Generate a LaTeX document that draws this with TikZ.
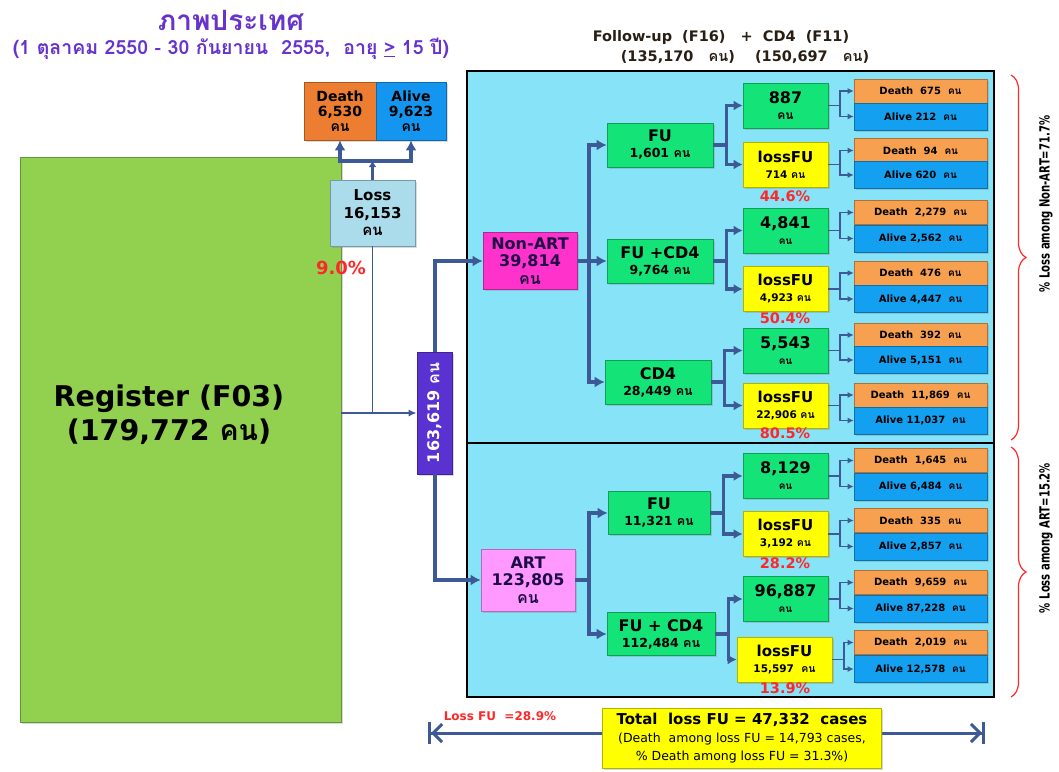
\documentclass[tikz,border=0pt]{standalone}
\usepackage{fontspec}
\usepackage{graphicx}
\setmainfont{DejaVu Sans}
\newfontfamily\thaifont[Script=Thai]{Loma}
\usetikzlibrary{arrows.meta,shadows,decorations.pathreplacing,calc}
\definecolor{panelc}{RGB}{135,228,248}
\definecolor{regc}{RGB}{146,208,80}
\definecolor{grn}{RGB}{20,228,120}
\definecolor{yel}{RGB}{255,255,0}
\definecolor{orng}{RGB}{247,160,80}
\definecolor{blu}{RGB}{20,160,240}
\definecolor{dorng}{RGB}{237,125,49}
\definecolor{dblu}{RGB}{20,150,240}
\definecolor{magc}{RGB}{255,51,204}
\definecolor{pinkc}{RGB}{255,153,255}
\definecolor{lossc}{RGB}{170,220,235}
\definecolor{purpc}{RGB}{90,50,210}
\definecolor{linec}{RGB}{62,90,150}
\definecolor{titlec}{RGB}{102,51,204}
\definecolor{redc}{RGB}{255,40,40}
\definecolor{hdrc}{RGB}{40,30,20}
\definecolor{navyc}{RGB}{30,10,70}
\newcommand\kon{{\thaifont คน}}
\newcommand\fz[2]{{\fontsize{#1}{#1}\selectfont #2}}
\tikzset{
  bx/.style={draw=#1!70!black, fill=#1, line width=0.6pt, inner sep=1pt, align=center,
    font=\bfseries\fontsize{12}{14}\selectfont,
    drop shadow={shadow xshift=1.5pt,shadow yshift=-1.5pt,opacity=0.3}},
  lv2/.style={bx=grn, minimum width=106, minimum height=44},
  lv3g/.style={bx=grn, minimum width=85, minimum height=45},
  lv3y/.style={bx=yel, minimum width=85, minimum height=45},
  dth/.style={bx=orng, minimum width=133, minimum height=24, font=\bfseries\fontsize{10}{12}\selectfont},
  alv/.style={bx=blu, minimum width=133, minimum height=27, font=\bfseries\fontsize{10}{12}\selectfont},
  pct/.style={text=redc, font=\bfseries\fontsize{14.5}{16}\selectfont, inner sep=0},
  conn/.style={draw=linec, line width=4pt, -{Latex[length=10pt,width=11pt]}},
  conn3/.style={draw=linec, line width=3.4pt, -{Latex[length=9pt,width=10pt]}},
  conns/.style={draw=linec, line width=1.8pt, -{Latex[length=6pt,width=6pt]}},
  connt/.style={draw=linec, line width=1.6pt},
}
\begin{document}
\begin{tikzpicture}[x=1pt,y=-1pt]
\useasboundingbox (0,0) rectangle (1059,771);

% titles
\node[text=titlec, font=\thaifont\bfseries\fontsize{28}{30}\selectfont, inner sep=0] (title) at (231,20) {ภาพประเทศ};
\node[text=titlec, font=\thaifont\bfseries\fontsize{19.5}{21}\selectfont, inner sep=0] (subtitle) at (231,49) {(1 ตุลาคม 2550 - 30 กันยายน\ \ 2555,\ \ อายุ \underline{>} 15 ปี)};
\node[font=\bfseries\fontsize{14.5}{16}\selectfont, text=hdrc] (hdr1) at (721,37) {Follow-up\ \ (F16)\ \ \ +\ \ CD4\ \ (F11)};
\node[font=\bfseries\fontsize{14.5}{16}\selectfont, text=hdrc] (hdr2) at (745,57) {(135,170\ \ \ \kon)\ \ \ \ (150,697\ \ \ \kon)};

% panel
\draw[fill=panelc, line width=2pt] (467,71) rectangle (994,697);
\draw[line width=2pt] (467,443) -- (994,443);

% register and loss
\node[bx=regc, minimum width=321, minimum height=565] (reg) at (180.5,439.5) {};
\node[align=center, font=\bfseries\fontsize{28.5}{34}\selectfont] (regtxt) at (169,415) {Register (F03)\\(179,772 \kon)};
\node[bx=dorng, minimum width=72, minimum height=58, font=\bfseries\fontsize{14}{15}\selectfont] (dtop) at (340,111) {Death\\6,530\\\kon};
\node[bx=dblu, minimum width=70, minimum height=58, font=\bfseries\fontsize{14}{15}\selectfont] (atop) at (411,111) {Alive\\9,623\\\kon};
\node[bx=lossc, minimum width=85, minimum height=66, font=\bfseries\fontsize{15}{17.5}\selectfont] (loss) at (372.5,213) {Loss\\16,153\\\kon};
\node[pct, font=\bfseries\fontsize{18}{20}\selectfont] (p90) at (341,268) {9.0\%};
\node[bx=purpc, minimum width=122, minimum height=35, rotate=90, text=white, font=\bfseries\fontsize{16}{18}\selectfont] (purp) at (434.5,413) {163,619 \kon};

\coordinate (fork) at (372.5,161);
\draw[conn, line width=3.4pt, -{Latex[length=6pt,width=8pt]}] (loss.north) -- (fork);
\draw[conn, line width=3.6pt] (fork) -| (dtop.south);
\draw[conn, line width=3.6pt] (fork) -| (atop.south);
\draw[connt] (loss.south) -- (loss.south |- purp.north);
\draw[connt, -{Latex[length=8pt,width=7pt]}] (reg.east |- purp.north) -- (purp.north);

% level 1
\node[bx=magc, minimum width=94, minimum height=57, font=\bfseries\fontsize{16}{17.5}\selectfont, text=navyc] (nonart) at (530,261) {Non-ART\\39,814\\\kon};
\node[bx=pinkc, minimum width=94, minimum height=62, font=\bfseries\fontsize{16}{17.5}\selectfont, text=navyc] (art) at (528,580) {ART\\123,805\\\kon};
\draw[conn] (purp.east) |- (nonart.west);
\draw[conn] (purp.west) |- (art.west);

% level 2
\node[lv2] (nfu) at (660,145) {\fz{16}{FU}\\[2pt]\fz{12.5}{1,601 \kon}};
\node[lv2] (nfc) at (660,261) {\fz{16}{FU +CD4}\\[2pt]\fz{12.5}{9,764 \kon}};
\node[lv2] (ncd) at (658,382) {\fz{16}{CD4}\\[2pt]\fz{12.5}{28,449 \kon}};
\node[lv2, minimum width=102, minimum height=43] (afu) at (659,513) {\fz{16}{FU}\\[2pt]\fz{12.5}{11,321 \kon}};
\node[lv2, minimum width=108, minimum height=43] (afc) at (661,634) {\fz{16}{FU + CD4}\\[2pt]\fz{12.5}{112,484 \kon}};
\foreach \t in {nfu,nfc,ncd} \draw[conn] (nonart.east) -- ++(12,0) |- (\t.west);
\foreach \t in {afu,afc} \draw[conn] (art.east) -- ++(14,0) |- (\t.west);

% level 3
\node[lv3g] (c1) at (785.5,105.5) {\fz{16}{887}\\[2pt]\fz{12}{\kon}};
\node[lv3y] (y1) at (785.5,164.5) {\fz{15}{lossFU}\\[2pt]\fz{10.5}{714 \kon}};
\node[lv3g] (c2) at (785.5,230.5) {\fz{16}{4,841}\\[2pt]\fz{10}{\kon}};
\node[lv3y] (y2) at (785.5,289) {\fz{15}{lossFU}\\[2pt]\fz{10.5}{4,923 \kon}};
\node[lv3g] (c3) at (785.5,350.5) {\fz{16}{5,543}\\[2pt]\fz{10}{\kon}};
\node[lv3y] (y3) at (785.5,405.5) {\fz{15}{lossFU}\\[2pt]\fz{10.5}{22,906 \kon}};
\node[lv3g] (c4) at (785.5,476) {\fz{16}{8,129}\\[2pt]\fz{10}{\kon}};
\node[lv3y] (y4) at (785.5,534) {\fz{15}{lossFU}\\[2pt]\fz{10.5}{3,192 \kon}};
\node[lv3g] (c5) at (785.5,599) {\fz{16}{96,887}\\[2pt]\fz{10}{\kon}};
\node[lv3y, minimum width=95] (y5) at (784.5,659.5) {\fz{15}{lossFU}\\[2pt]\fz{10.5}{15,597\ \ \kon}};
\node[pct] (p1) at (785,196) {44.6\%};
\node[pct] (p2) at (785,318) {50.4\%};
\node[pct] (p3) at (785,433) {80.5\%};
\node[pct] (p4) at (785,563) {28.2\%};
\node[pct] (p5) at (785,688) {13.9\%};
\foreach \s/\a/\b in {nfu/c1/y1, nfc/c2/y2, ncd/c3/y3, afu/c4/y4, afc/c5/y5} {
  \draw[conn3] (\s.east) -- ++(13,0) |- (\a.west);
  \draw[conn3] (\s.east) -- ++(13,0) |- (\b.west);
}

% level 4
\foreach \n/\dy/\ay/\dt/\at in {c1/91/116.5/675/212, y1/150.5/175/94/620, c2/212.5/238.5/{2,279}/{2,562},
  y2/273/299/476/{4,447}, c3/335/360/392/{5,151}, y3/395/420.5/{11,869}/{11,037},
  c4/460.5/486.5/{1,645}/{6,484}, y4/520.5/546.5/335/{2,857}, c5/582.5/608.5/{9,659}/{87,228}, y5/642.5/669/{2,019}/{12,578}} {
  \node[dth] (d\n) at (920.5,\dy) {Death\ \ \dt\ \ \kon};
  \node[alv] (a\n) at (920.5,\ay) {Alive \at\ \ \kon};
  \draw[conns] (\n.east) -- ++(12,0) |- (d\n.west);
  \draw[conns] (\n.east) -- ++(12,0) |- (a\n.west);
}

% braces and side labels
\coordinate (b1t) at (1011,75);
\coordinate (b1b) at (1011,440);
\coordinate (b2t) at (1011,447);
\coordinate (b2b) at (1011,697);
\draw[redc, line width=1.2pt, decorate, decoration={brace, amplitude=15pt}] (b1t) -- (b1b);
\draw[redc, line width=1.2pt, decorate, decoration={brace, amplitude=15pt}] (b2t) -- (b2b);
\node[rotate=90, font=\bfseries\fontsize{14}{16}\selectfont] (lab1) at (1046,204) {\scalebox{0.72}[1]{\% Loss among Non-ART=71.7\%}};
\node[rotate=90, font=\bfseries\fontsize{14}{16}\selectfont] (lab2) at (1046,538) {\scalebox{0.72}[1]{\% Loss among ART=15.2\%}};

% bottom
\coordinate (la) at (428,733);
\coordinate (ra) at (985,733);
\draw[draw=linec, line width=3pt, {Bar[width=22pt]Straight Barb[length=9pt,width=18pt]}-{Straight Barb[length=9pt,width=18pt]Bar[width=22pt]}] (la) -- (ra);
\node[text=redc, font=\bfseries\fontsize{12}{14}\selectfont] (lfu) at (500,716) {Loss FU\ \ =28.9\%};
\node[bx=yel, minimum width=279, minimum height=60, font=\fontsize{12.5}{18}\selectfont] (tot) at (742,738)
  {\fz{15}{\bfseries Total\ \ loss FU = 47,332\ \ cases}\\(Death\ \ among loss FU = 14,793 cases,\\\% Death among loss FU = 31.3\%)};
\end{tikzpicture}
\end{document}
